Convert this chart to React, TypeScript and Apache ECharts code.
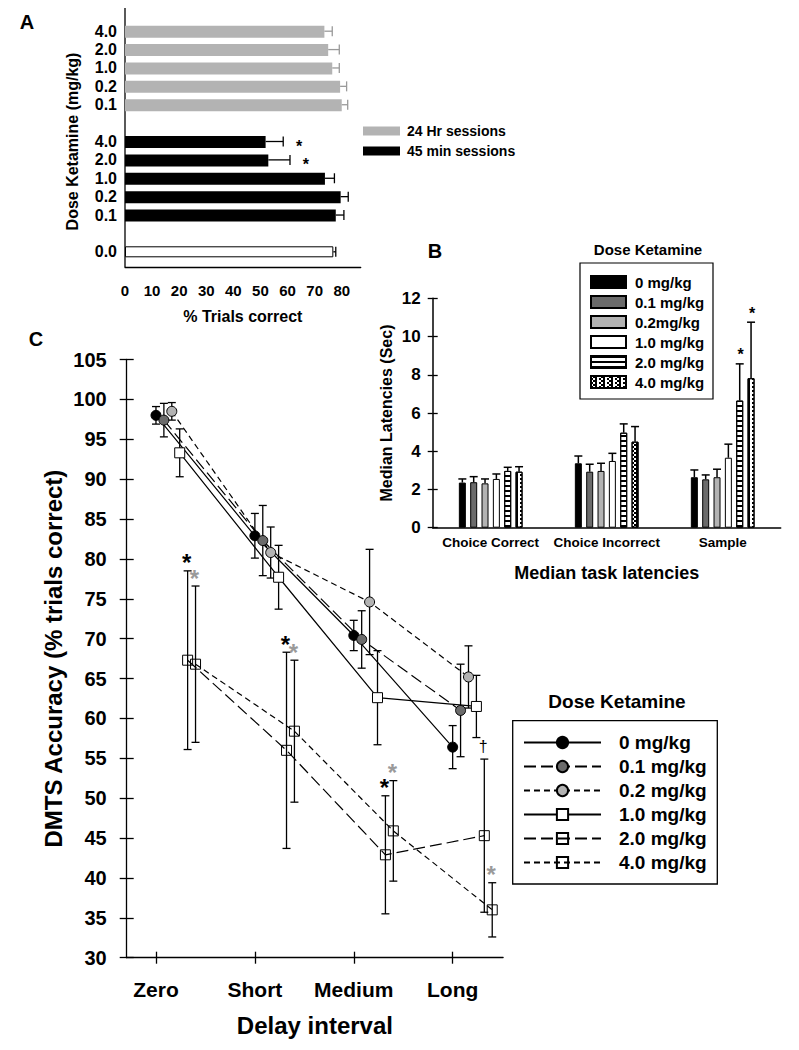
import React, { useEffect, useRef } from 'react';
import * as echarts from 'echarts';

const FONT = '"Liberation Sans", Arial, Helvetica, sans-serif';

// ---------------- Panel A data ----------------
const aDoseLabels = ['4.0', '2.0', '1.0', '0.2', '0.1'];
const aSalineLabel = '0.0';
const a24Mean = [73.6, 75.0, 76.5, 79.4, 80.0];
const a24Err = [2.9, 4.1, 2.6, 2.4, 2.2];
const a45Mean = [51.9, 52.9, 73.8, 79.6, 77.8];
const a45Err = [6.5, 8.0, 3.5, 2.8, 3.0];
const a45Sig = ['*', '*', '', '', ''];
const aSalineMean = [76.9];
const aSalineErr = [0.9];
const aTicks = [0, 10, 20, 30, 40, 50, 60, 70, 80];

// ---------------- Panel B data ----------------
const bCategories = ['Choice Correct', 'Choice Incorrect', 'Sample'];
const bDoses = ['0 mg/kg', '0.1 mg/kg', '0.2mg/kg', '1.0 mg/kg', '2.0 mg/kg', '4.0 mg/kg'];
const bMean0 = [2.36, 3.37, 2.64];
const bMean01 = [2.38, 2.93, 2.53];
const bMean02 = [2.32, 2.97, 2.64];
const bMean1 = [2.55, 3.49, 3.66];
const bMean2 = [2.97, 4.97, 6.65];
const bMean4 = [2.93, 4.5, 7.82];
const bErr0 = [0.19, 0.38, 0.38];
const bErr01 = [0.29, 0.39, 0.23];
const bErr02 = [0.23, 0.4, 0.42];
const bErr1 = [0.26, 0.4, 0.71];
const bErr2 = [0.19, 0.46, 1.92];
const bErr4 = [0.26, 0.79, 2.93];
const bSig2 = ['', '', '*'];
const bSig4 = ['', '', '*'];

// ---------------- Panel C data ----------------
const cDelays = ['Zero', 'Short', 'Medium', 'Long'];
const cDoses = ['0 mg/kg', '0.1 mg/kg', '0.2 mg/kg', '1.0 mg/kg', '2.0 mg/kg', '4.0 mg/kg'];
const cMean0 = [98.0, 82.9, 70.4, 56.4];
const cMean01 = [97.4, 82.3, 69.9, 61.0];
const cMean02 = [98.5, 80.8, 74.6, 65.2];
const cMean1 = [93.3, 77.7, 62.6, 61.5];
const cMean2 = [67.3, 56.0, 42.9, 45.3];
const cMean4 = [66.8, 58.4, 45.9, 36.0];
const cErr0 = [1.1, 2.8, 1.9, 2.7];
const cErr01 = [2.1, 4.4, 3.6, 5.8];
const cErr02 = [1.1, 3.2, 6.6, 3.9];
const cErr1 = [3.0, 4.0, 5.9, 3.9];
const cErr2 = [11.2, 12.3, 7.4, 9.6];
const cErr4 = [9.8, 8.9, 6.3, 3.4];
const cSig2 = ['*', '*', '*', '\u2020'];
const cSig4 = ['*', '*', '*', '*'];

// ---------------- helpers ----------------
const boldText = (size: number) => ({
  fontFamily: FONT,
  fontWeight: 'bold' as const,
  fontSize: size,
  color: '#000',
});

function buildA(): any {
  const cats = [...aDoseLabels, '', ...aDoseLabels, '', aSalineLabel];
  const pad = (vals: number[], start: number) =>
    cats.map((_, i) => (i >= start && i < start + vals.length ? vals[i - start] : null));
  const errItems: any[] = [];
  a24Mean.forEach((m, i) => errItems.push({ m, i, e: a24Err[i], c: '#9a9a9a', s: '' }));
  a45Mean.forEach((m, i) => errItems.push({ m, i: i + 6, e: a45Err[i], c: '#000', s: a45Sig[i] }));
  aSalineMean.forEach((m, i) => errItems.push({ m, i: i + 12, e: aSalineErr[i], c: '#000', s: '' }));

  const xBase = {
    type: 'value',
    min: 0,
    max: 87,
    offset: 6,
    splitLine: { show: false },
  };
  return {
    animation: false,
    grid: { left: 125, top: 22, width: 235.7, height: 239 },
    xAxis: [
      {
        ...xBase,
        axisLine: { show: true, lineStyle: { color: '#000', width: 1.3 } },
        axisTick: { customValues: aTicks, length: 6, lineStyle: { color: '#000', width: 1.3 } },
        axisLabel: { customValues: aTicks, margin: 16, ...boldText(15) },
        name: '% Trials correct',
        nameLocation: 'middle',
        nameGap: 41,
        nameTextStyle: boldText(16),
      },
      {
        ...xBase,
        position: 'bottom',
        axisLine: { show: false },
        axisTick: { customValues: aTicks, inside: true, length: 2, lineStyle: { color: '#000', width: 1.3 } },
        axisLabel: { show: false },
      },
    ],
    yAxis: {
      type: 'category',
      inverse: true,
      data: cats,
      axisLine: { show: false },
      axisTick: { show: false },
      axisLabel: { interval: 0, margin: 8, ...boldText(16) },
      name: 'Dose Ketamine (mg/kg)',
      nameLocation: 'middle',
      nameGap: 45,
      nameTextStyle: boldText(16),
    },
    legend: {
      data: ['24 Hr sessions', '45 min sessions'],
      orient: 'vertical',
      left: 363,
      top: 124,
      padding: 0,
      itemWidth: 37,
      itemHeight: 9,
      itemGap: 6,
      icon: 'rect',
      selectedMode: false,
      textStyle: { ...boldText(14), padding: [0, 0, 0, 2] },
    },
    graphic: [
      { type: 'text', x: 27, y: 22, style: { text: 'A', fill: '#000', fontSize: 20, fontWeight: 'bold', fontFamily: FONT, align: 'center', verticalAlign: 'middle' } },
      { type: 'line', shape: { x1: 125, y1: 8, x2: 125, y2: 267 }, style: { stroke: '#000', lineWidth: 1.3 } },
    ],
    series: [
      {
        name: '24 Hr sessions',
        type: 'bar',
        data: pad(a24Mean, 0),
        barWidth: 12,
        barGap: '-100%',
        itemStyle: { color: '#b3b3b3' },
      },
      {
        name: '45 min sessions',
        type: 'bar',
        data: pad(a45Mean, 6),
        barWidth: 12,
        barGap: '-100%',
        itemStyle: { color: '#000' },
      },
      {
        name: 'Saline',
        type: 'bar',
        data: pad(aSalineMean, 12),
        barWidth: 11,
        barGap: '-100%',
        itemStyle: { color: '#fff', borderColor: '#000', borderWidth: 1 },
      },
      {
        name: 'errA',
        type: 'custom',
        encode: { x: 0, y: 1 },
        data: errItems.map((d) => [d.m, d.i, d.e]),
        z: 5,
        renderItem: (params: any, api: any) => {
          const it = errItems[params.dataIndex];
          const p0 = api.coord([it.m, it.i]);
          const p1 = api.coord([it.m + it.e, it.i]);
          const st = { stroke: it.c, lineWidth: 1.3 };
          const children: any[] = [
            { type: 'line', shape: { x1: p0[0], y1: p0[1], x2: p1[0], y2: p1[1] }, style: st },
            { type: 'line', shape: { x1: p1[0], y1: p1[1] - 5, x2: p1[0], y2: p1[1] + 5 }, style: st },
          ];
          if (it.s) {
            children.push({
              type: 'text',
              style: { text: it.s, x: p1[0] + 16, y: p1[1] + 5, fill: '#000', fontSize: 16, fontWeight: 'bold', fontFamily: FONT, align: 'center', verticalAlign: 'middle' },
            });
          }
          return { type: 'group', children };
        },
      },
    ],
  };
}

function buildB(): any {
  const means = [bMean0, bMean01, bMean02, bMean1, bMean2, bMean4];
  const errs = [bErr0, bErr01, bErr02, bErr1, bErr2, bErr4];
  const sigs = [null, null, null, null, bSig2, bSig4];
  const stripes = { symbol: 'rect', symbolSize: 1, color: '#000', dashArrayX: [10, 0], dashArrayY: [1.2, 2.6] };
  const checker = { symbol: 'rect', symbolSize: 1, color: '#000', dashArrayX: [[2, 2], [0, 2, 2]], dashArrayY: [2, 0] };
  const styles: any[] = [
    { color: '#000' },
    { color: '#6b6b6b' },
    { color: '#b3b3b3' },
    { color: '#fff' },
    { color: '#fff', decal: stripes },
    { color: '#fff', decal: checker },
  ];
  const barWidth = 7;
  const gapRatio = 0.62;
  const pitch = barWidth * (1 + gapRatio);
  const errItems: any[] = [];
  means.forEach((arr, k) =>
    arr.forEach((m, i) => errItems.push({ i, m, e: errs[k][i], k, s: sigs[k] ? sigs[k]![i] : '' }))
  );
  return {
    animation: false,
    grid: { left: 432.7, top: 298.3, width: 348, height: 229.4 },
    xAxis: {
      type: 'category',
      data: bCategories,
      axisLine: { lineStyle: { color: '#000', width: 1.5 } },
      axisTick: { show: false },
      axisLabel: { interval: 0, margin: 8, ...boldText(13.5) },
      name: 'Median task latencies',
      nameLocation: 'middle',
      nameGap: 36,
      nameTextStyle: boldText(18),
    },
    yAxis: [
      {
        type: 'value',
        min: 0,
        max: 12,
        interval: 2,
        axisLine: { show: true, lineStyle: { color: '#000', width: 1.5 } },
        axisTick: { show: true, length: 5, lineStyle: { color: '#000', width: 1.3 } },
        axisLabel: { margin: 12, ...boldText(17) },
        splitLine: { show: false },
        name: 'Median Latencies (Sec)',
        nameLocation: 'middle',
        nameGap: 38,
        nameTextStyle: boldText(16),
      },
      {
        type: 'value',
        min: 0,
        max: 12,
        interval: 2,
        position: 'left',
        axisLine: { show: false },
        axisTick: { show: true, inside: true, length: 5, lineStyle: { color: '#000', width: 1.3 } },
        axisLabel: { show: false },
        splitLine: { show: false },
      },
    ],
    legend: {
      data: bDoses,
      orient: 'vertical',
      left: 590,
      top: 274.5,
      padding: 0,
      itemWidth: 35,
      itemHeight: 12,
      itemGap: 5,
      icon: 'rect',
      selectedMode: false,
      textStyle: { ...boldText(15), padding: [0, 0, 0, 4] },
    },
    graphic: [
      { type: 'text', x: 435, y: 251, style: { text: 'B', fill: '#000', fontSize: 20, fontWeight: 'bold', fontFamily: FONT, align: 'center', verticalAlign: 'middle' } },
      { type: 'text', x: 648, y: 249, style: { text: 'Dose Ketamine', fill: '#000', fontSize: 15, fontWeight: 'bold', fontFamily: FONT, align: 'center', verticalAlign: 'middle' } },
      { type: 'rect', shape: { x: 580, y: 263, width: 133, height: 136 }, style: { fill: 'none', stroke: '#000', lineWidth: 1.2 } },
    ],
    series: [
      ...means.map((arr, k) => ({
        name: bDoses[k],
        type: 'bar',
        data: arr,
        barWidth,
        barGap: `${gapRatio * 100}%`,
        itemStyle: { ...styles[k], borderColor: '#000', borderWidth: 1 },
      })),
      {
        name: 'errB',
        type: 'custom',
        encode: { x: 0, y: 1 },
        data: errItems.map((d) => [d.i, d.m, d.e]),
        z: 5,
        renderItem: (params: any, api: any) => {
          const it = errItems[params.dataIndex];
          const c0 = api.coord([it.i, it.m]);
          const c1 = api.coord([it.i, it.m + it.e]);
          const x = c0[0] + (it.k - 2.5) * pitch;
          const st = { stroke: '#000', lineWidth: 1.5 };
          const children: any[] = [
            { type: 'line', shape: { x1: x, y1: c0[1], x2: x, y2: c1[1] }, style: st },
            { type: 'line', shape: { x1: x - 4, y1: c1[1], x2: x + 4, y2: c1[1] }, style: st },
          ];
          if (it.s) {
            children.push({
              type: 'text',
              style: { text: it.s, x: x + 1, y: c1[1] - 9, fill: '#000', fontSize: 16, fontWeight: 'bold', fontFamily: FONT, align: 'center', verticalAlign: 'middle' },
            });
          }
          return { type: 'group', children };
        },
      },
    ],
  };
}

function buildC(): any {
  const means = [cMean0, cMean01, cMean02, cMean1, cMean2, cMean4];
  const errs = [cErr0, cErr01, cErr02, cErr1, cErr2, cErr4];
  const sigs = [null, null, null, null, cSig2, cSig4];
  const sigColors = ['#000', '#000', '#000', '#000', '#000', '#9a9a9a'];
  const dodge = 0.08;
  const looks: any[] = [
    { symbol: 'circle', fill: '#000', type: 'solid' },
    { symbol: 'circle', fill: '#6b6b6b', type: [12, 5] },
    { symbol: 'circle', fill: '#b3b3b3', type: [6, 4] },
    { symbol: 'rect', fill: '#fff', type: 'solid' },
    { symbol: 'rect', fill: 'rgba(255,255,255,0)', type: [12, 5] },
    { symbol: 'rect', fill: 'rgba(255,255,255,0)', type: [6, 4] },
  ];
  const tickVals = cDelays.map((_, i) => i + 1);
  const errItems: any[] = [];
  means.forEach((arr, k) =>
    arr.forEach((m, i) =>
      errItems.push({ x: i + 1 + k * dodge, m, e: errs[k][i], s: sigs[k] ? sigs[k]![i] : '', sc: sigColors[k] })
    )
  );
  const xBase = { type: 'value', min: 0.704, max: 4.51, splitLine: { show: false } };
  const yBase = { type: 'value', min: 30, max: 105, interval: 5, splitLine: { show: false } };
  return {
    animation: false,
    grid: { left: 126.7, top: 359.5, width: 376.4, height: 598.2 },
    xAxis: [
      {
        ...xBase,
        axisLine: { show: true, lineStyle: { color: '#000', width: 1.3 } },
        axisTick: { customValues: tickVals, length: 6, lineStyle: { color: '#000', width: 1.3 } },
        axisLabel: {
          customValues: tickVals,
          formatter: (v: number) => cDelays[Math.round(v) - 1] || '',
          margin: 21,
          ...boldText(21),
        },
        name: 'Delay interval',
        nameLocation: 'middle',
        nameGap: 56,
        nameTextStyle: boldText(24),
      },
      {
        ...xBase,
        position: 'bottom',
        axisLine: { show: false },
        axisTick: { customValues: tickVals, inside: true, length: 6, lineStyle: { color: '#000', width: 1.3 } },
        axisLabel: { show: false },
      },
    ],
    yAxis: [
      {
        ...yBase,
        axisLine: { show: true, lineStyle: { color: '#000', width: 1.3 } },
        axisTick: { show: true, length: 7, lineStyle: { color: '#000', width: 1.3 } },
        axisLabel: { margin: 20, ...boldText(20) },
        name: 'DMTS Accuracy (% trials correct)',
        nameLocation: 'middle',
        nameGap: 61,
        nameTextStyle: boldText(24),
      },
      {
        ...yBase,
        position: 'left',
        axisLine: { show: false },
        axisTick: { show: true, inside: true, length: 7, lineStyle: { color: '#000', width: 1.3 } },
        axisLabel: { show: false },
      },
    ],
    legend: {
      data: cDoses,
      orient: 'vertical',
      left: 523,
      top: 733,
      padding: 0,
      itemWidth: 77,
      itemHeight: 14,
      itemGap: 5,
      selectedMode: false,
      textStyle: { ...boldText(19), padding: [0, 0, 0, 13] },
    },
    graphic: [
      { type: 'text', x: 36, y: 339, style: { text: 'C', fill: '#000', fontSize: 20, fontWeight: 'bold', fontFamily: FONT, align: 'center', verticalAlign: 'middle' } },
      { type: 'text', x: 617, y: 701, style: { text: 'Dose Ketamine', fill: '#000', fontSize: 19, fontWeight: 'bold', fontFamily: FONT, align: 'center', verticalAlign: 'middle' } },
      { type: 'rect', shape: { x: 512.7, y: 720.7, width: 204.6, height: 163.3 }, style: { fill: 'none', stroke: '#000', lineWidth: 1.3 } },
    ],
    series: [
      {
        name: 'errC',
        type: 'custom',
        encode: { x: 0, y: 1 },
        data: errItems.map((d) => [d.x, d.m, d.e]),
        z: 1,
        renderItem: (params: any, api: any) => {
          const it = errItems[params.dataIndex];
          const lo = api.coord([it.x, it.m - it.e]);
          const hi = api.coord([it.x, it.m + it.e]);
          const st = { stroke: '#000', lineWidth: 1.3 };
          const children: any[] = [
            { type: 'line', shape: { x1: lo[0], y1: lo[1], x2: hi[0], y2: hi[1] }, style: st },
            { type: 'line', shape: { x1: hi[0] - 4, y1: hi[1], x2: hi[0] + 4, y2: hi[1] }, style: st },
            { type: 'line', shape: { x1: lo[0] - 4, y1: lo[1], x2: lo[0] + 4, y2: lo[1] }, style: st },
          ];
          if (it.s) {
            const dagger = it.s === '\u2020';
            children.push({
              type: 'text',
              style: {
                text: it.s,
                x: hi[0] - 1,
                y: hi[1] - (dagger ? 13 : 8),
                fill: it.sc,
                fontSize: dagger ? 16 : 24,
                fontWeight: dagger ? 'normal' : 'bold',
                fontFamily: FONT,
                align: 'center',
                verticalAlign: 'middle',
              },
            });
          }
          return { type: 'group', children };
        },
      },
      ...means.map((arr, k) => ({
        name: cDoses[k],
        type: 'line',
        z: 3,
        data: arr.map((m, i) => [i + 1 + k * dodge, m]),
        symbol: looks[k].symbol,
        symbolSize: 10,
        lineStyle: { color: '#000', width: 1.2, type: looks[k].type },
        itemStyle: { color: looks[k].fill, borderColor: '#000', borderWidth: 1 },
      })),
    ],
  };
}

export default function App() {
  const refA = useRef<HTMLDivElement>(null);
  const refB = useRef<HTMLDivElement>(null);
  const refC = useRef<HTMLDivElement>(null);

  useEffect(() => {
    const charts: any[] = [];
    const pairs: [HTMLDivElement | null, any][] = [
      [refA.current, buildA()],
      [refB.current, buildB()],
      [refC.current, buildC()],
    ];
    pairs.forEach(([el, opt]) => {
      if (!el) return;
      const c = echarts.init(el, null, { renderer: 'svg' });
      c.setOption(opt);
      charts.push(c);
    });
    return () => charts.forEach((c) => c.dispose());
  }, []);

  const layer: React.CSSProperties = { position: 'absolute', left: 0, top: 0, width: 799, height: 1050 };
  return (
    <div style={{ position: 'absolute', left: 0, top: 0, width: 799, height: 1050, background: '#fff', overflow: 'hidden' }}>
      <div ref={refA} style={layer} />
      <div ref={refB} style={layer} />
      <div ref={refC} style={layer} />
    </div>
  );
}
